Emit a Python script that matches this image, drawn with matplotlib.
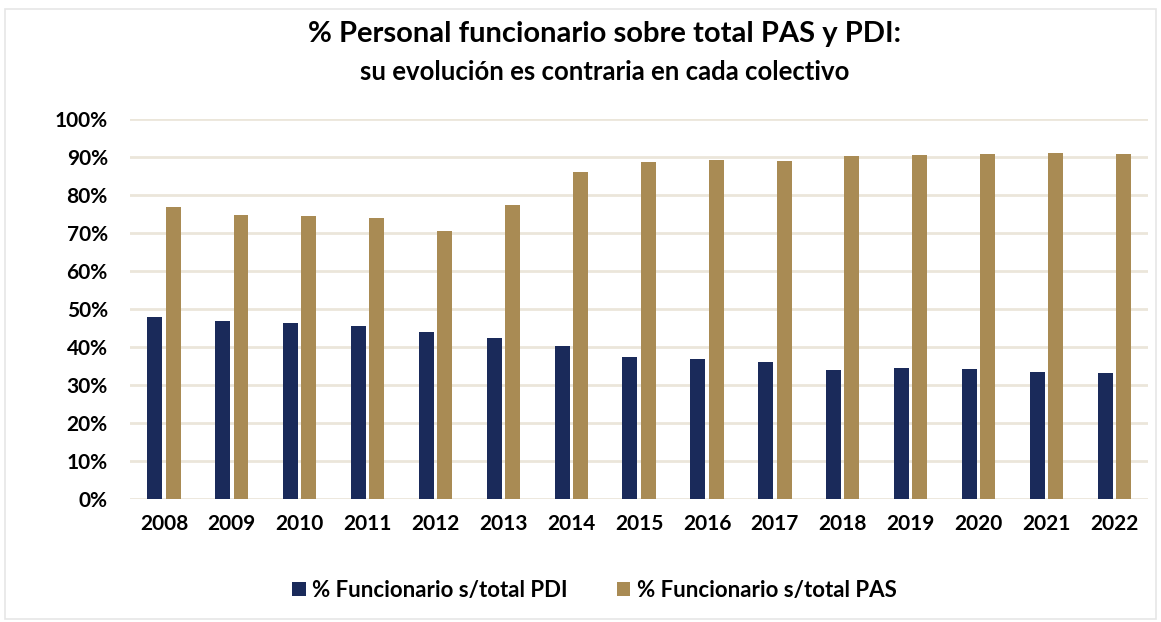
import numpy as np
import matplotlib.pyplot as plt
from matplotlib.patches import Rectangle
from matplotlib.ticker import PercentFormatter

plt.rcParams['font.family'] = ['Lato', 'DejaVu Sans']
plt.rcParams['font.weight'] = 'bold'

years = ['2008', '2009', '2010', '2011', '2012', '2013', '2014', '2015',
         '2016', '2017', '2018', '2019', '2020', '2021', '2022']
pdi = [47.8, 46.8, 46.3, 45.4, 44.0, 42.3, 40.2, 37.4, 36.7, 36.1, 33.9, 34.3, 34.2, 33.5, 33.2]
pas = [76.8, 74.7, 74.4, 73.9, 70.5, 77.4, 86.1, 88.7, 89.1, 89.0, 90.3, 90.6, 90.8, 91.0, 90.7]
labels = ['% Funcionario s/total PDI', '% Funcionario s/total PAS']
c_pdi = '#1a2a5a'
c_pas = '#a98b54'

fig = plt.figure(figsize=(11.61, 6.22), dpi=100)
fig.patches.append(Rectangle((0.004, 0.005), 0.992, 0.98, transform=fig.transFigure,
                             fill=False, edgecolor='#e6e6e6', lw=1.2))

ax = fig.add_axes([0.112, 0.198, 0.877, 0.611])
x = np.arange(len(years))
w = 0.22
ax.bar(x - 0.135, pdi, w, color=c_pdi, label=labels[0], zorder=3)
ax.bar(x + 0.135, pas, w, color=c_pas, label=labels[1], zorder=3)

ax.set_ylim(0, 100)
ax.set_xlim(-0.5, len(years) - 0.5)
ax.set_yticks(np.arange(0, 101, 10))
ax.yaxis.set_major_formatter(PercentFormatter(decimals=0))
ax.set_xticks(x)
ax.set_xticklabels(years)
ax.tick_params(axis='both', length=0, labelsize=15)
ax.tick_params(axis='y', pad=16)
ax.tick_params(axis='x', pad=11)
ax.grid(axis='y', color='#ebe6da', lw=2, zorder=0)
for s in ax.spines.values():
    s.set_visible(False)

fig.text(0.521, 0.945, '% Personal funcionario sobre total PAS y PDI:',
         ha='center', va='center', fontsize=21, fontweight='bold')
fig.text(0.521, 0.884, 'su evolución es contraria en cada colectivo',
         ha='center', va='center', fontsize=18.5, fontweight='bold')

fig.legend(loc='center', bbox_to_anchor=(0.512, 0.051), ncol=2, frameon=False,
           fontsize=16, handlelength=0.6, handleheight=0.6, handletextpad=0.3,
           columnspacing=2.2)

fig.savefig('out.png', dpi=100)
